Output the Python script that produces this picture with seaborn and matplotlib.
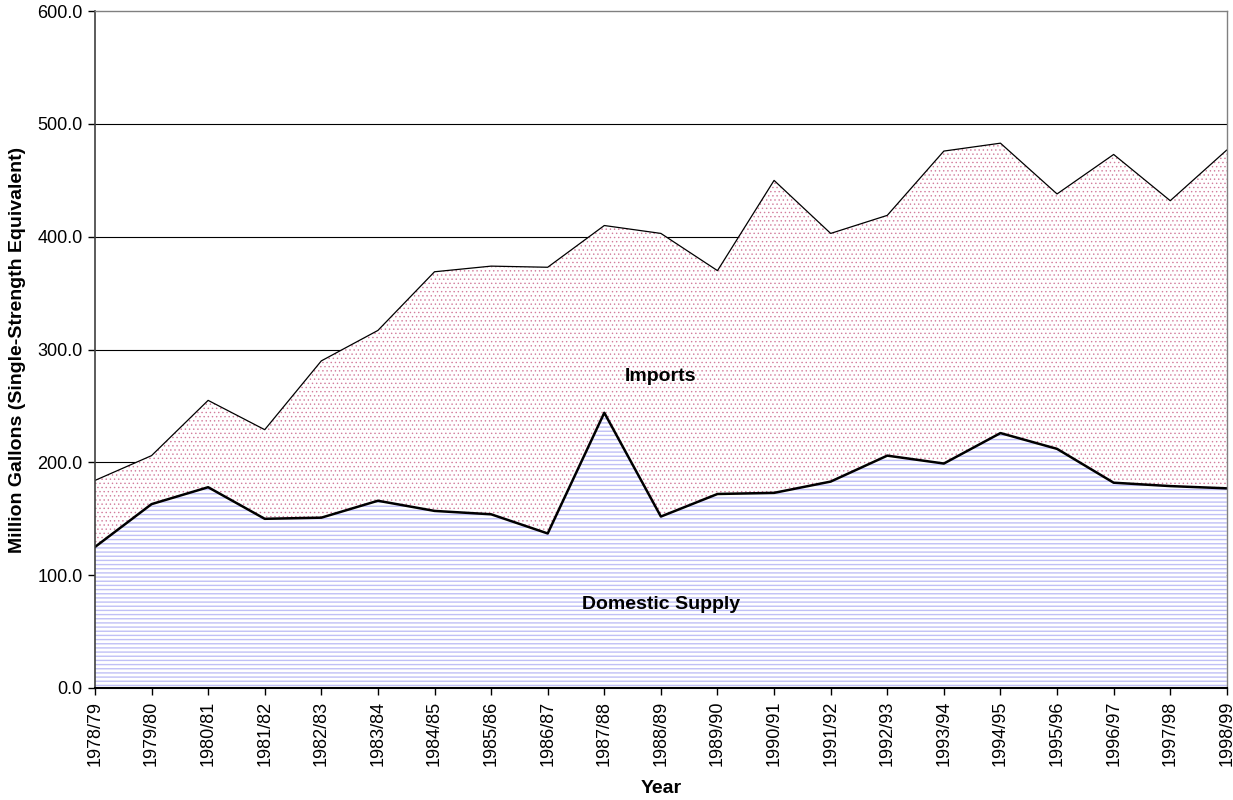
import matplotlib
matplotlib.use("Agg")
import matplotlib.pyplot as plt
import seaborn as sns
import pandas as pd

# Fiscal years
years = ["1978/79", "1979/80", "1980/81", "1981/82", "1982/83", "1983/84",
         "1984/85", "1985/86", "1986/87", "1987/88", "1988/89", "1989/90",
         "1990/91", "1991/92", "1992/93", "1993/94", "1994/95", "1995/96",
         "1996/97", "1997/98", "1998/99"]

# Million gallons, single-strength equivalent
domestic = [125, 163, 178, 150, 151, 166, 157, 154, 137, 244, 152,
            172, 173, 183, 206, 199, 226, 212, 182, 179, 177]
imports = [59, 43, 77, 79, 139, 151, 212, 220, 236, 166, 251,
           198, 277, 220, 213, 277, 257, 226, 291, 253, 300]

df = pd.DataFrame({"Year": years, "Domestic": domestic, "Imports": imports})
df["Total"] = df["Domestic"] + df["Imports"]
df["pos"] = range(len(df))

sns.set_style("white")
plt.rcParams["font.family"] = ["Liberation Sans", "DejaVu Sans"]
plt.rcParams["text.color"] = "black"
plt.rcParams["axes.labelcolor"] = "black"
plt.rcParams["xtick.color"] = "black"
plt.rcParams["ytick.color"] = "black"

fig = plt.figure(figsize=(12.33, 8), dpi=100)
ax = fig.add_axes([0.077, 0.14, 0.918, 0.846])

# gridlines behind the filled areas
for v in [100, 200, 300, 400, 500]:
    ax.axhline(v, color="black", linewidth=0.8, zorder=0)

# hatch width is read when the artist is made, so set it per fill
plt.rcParams["hatch.linewidth"] = 1.0
ax.fill_between(df["pos"], 0, df["Domestic"], facecolor="white",
                edgecolor="#c0c0f6", hatch="----", linewidth=0, zorder=1)
plt.rcParams["hatch.linewidth"] = 0.5
ax.fill_between(df["pos"], df["Domestic"], df["Total"], facecolor="white",
                edgecolor="#d27c9c", hatch="....", linewidth=0, zorder=1)

sns.lineplot(data=df, x="pos", y="Total", color="black", linewidth=0.9,
             ax=ax, zorder=3)
sns.lineplot(data=df, x="pos", y="Domestic", color="black", linewidth=1.8,
             ax=ax, zorder=3)

ax.text(10, 276, "Imports", ha="center", va="center", fontsize=14,
        fontweight="bold", zorder=4)
ax.text(10, 74, "Domestic Supply", ha="center", va="center", fontsize=14,
        fontweight="bold", zorder=4)

ax.set_xlim(0, len(years) - 1)
ax.set_ylim(0, 600)
ax.set_xticks(df["pos"])
ax.set_xticklabels(years, rotation=90, fontsize=13)
ax.set_yticks([0, 100, 200, 300, 400, 500, 600])
ax.set_yticklabels([f"{v:.1f}" for v in [0, 100, 200, 300, 400, 500, 600]],
                   fontsize=13)
ax.tick_params(axis="both", direction="out", length=5, width=1,
               color="black", pad=4, left=True, bottom=True)

ax.set_xlabel("Year", fontsize=14, fontweight="bold", labelpad=10)
ax.set_ylabel("Million Gallons (Single-Strength Equivalent)", fontsize=14,
              fontweight="bold", labelpad=8)

for side in ["top", "right"]:
    ax.spines[side].set_color("#808080")
    ax.spines[side].set_linewidth(1)
ax.spines["left"].set_color("#404040")
ax.spines["left"].set_linewidth(1.2)
ax.spines["bottom"].set_color("black")
ax.spines["bottom"].set_linewidth(1.5)
for s in ax.spines.values():
    s.set_zorder(5)

fig.savefig("out.png", dpi=100)
